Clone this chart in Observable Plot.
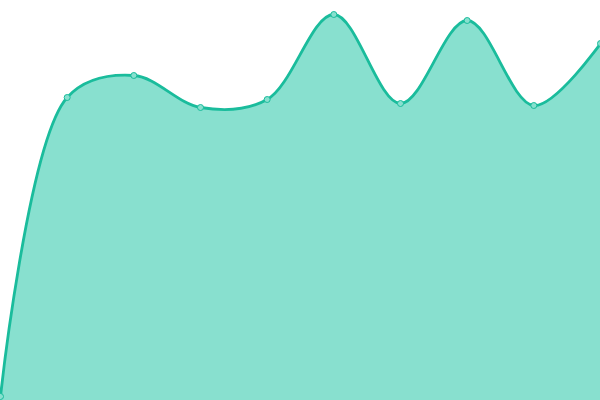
<!DOCTYPE html>
<html>
<head>
<meta charset="utf-8">
<script src="https://cdn.jsdelivr.net/npm/d3@7"></script>
<script src="https://cdn.jsdelivr.net/npm/@observablehq/plot@0.6"></script>
<style>
  html, body { margin: 0; padding: 0; background: #fff; overflow: hidden; }
</style>
</head>
<body>
<div id="chart"></div>
<script>
const indices = [0, 1, 2, 3, 4, 5, 6, 7, 8, 9];
const values = [4, 303, 325, 293, 301, 386, 297, 380, 295, 357];

const data = indices.map((i, k) => ({i, v: values[k]}));

const chart = Plot.plot({
  width: 600,
  height: 400,
  margin: 0,
  x: {domain: [0, 9], axis: null},
  y: {domain: [0, 400], axis: null},
  marks: [
    Plot.areaY(data, {x: "i", y: "v", curve: "catmull-rom", fill: "#88e0cf"}),
    Plot.lineY(data, {x: "i", y: "v", curve: "catmull-rom", stroke: "#1abc9c", strokeWidth: 2.8}),
    Plot.dot(data, {x: "i", y: "v", r: 3, fill: "#88e0cf", stroke: "#1abc9c", strokeWidth: 1})
  ]
});
document.getElementById("chart").appendChild(chart);
</script>
</body>
</html>
